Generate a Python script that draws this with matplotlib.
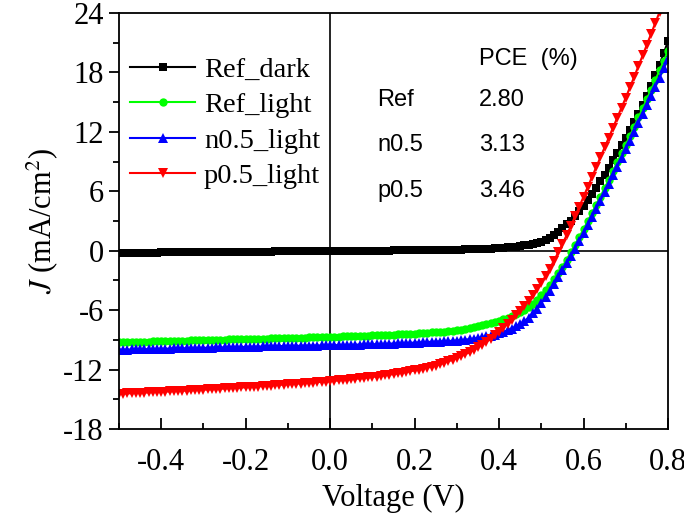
import numpy as np
import matplotlib
matplotlib.use("Agg")
import matplotlib.pyplot as plt
from matplotlib.ticker import MultipleLocator

plt.rcParams['font.family'] = ['Liberation Serif', 'DejaVu Serif']
plt.rcParams['mathtext.fontset'] = 'stix'
plt.rcParams['axes.unicode_minus'] = False

# Voltage sweep (V), 0.01 V steps
voltage = np.round(np.arange(-0.50, 0.8001, 0.01), 2)

ref_dark = [
    -0.22, -0.22, -0.21, -0.21, -0.21, -0.20, -0.20, -0.19, -0.19, -0.19,
    -0.18, -0.18, -0.17, -0.17, -0.17, -0.16, -0.16, -0.15, -0.15, -0.15,
    -0.14, -0.14, -0.13, -0.13, -0.13, -0.12, -0.12, -0.11, -0.11, -0.11,
    -0.10, -0.10, -0.09, -0.09, -0.09, -0.08, -0.08, -0.07, -0.07, -0.07,
    -0.06, -0.06, -0.05, -0.05, -0.05, -0.04, -0.04, -0.03, -0.03, -0.03,
    -0.02, -0.02, -0.02, -0.01, -0.01, -0.01, 0.00, 0.00, 0.00, 0.01,
    0.01, 0.01, 0.02, 0.02, 0.02, 0.03, 0.03, 0.03, 0.04, 0.04,
    0.05, 0.05, 0.06, 0.06, 0.07, 0.07, 0.08, 0.09, 0.09, 0.10,
    0.11, 0.12, 0.13, 0.14, 0.15, 0.17, 0.18, 0.20, 0.22, 0.24,
    0.27, 0.30, 0.33, 0.37, 0.42, 0.47, 0.53, 0.60, 0.68, 0.78,
    0.92, 1.10, 1.32, 1.60, 1.92, 2.27, 2.65, 3.05, 3.50, 3.98,
    4.50, 5.08, 5.70, 6.33, 7.00, 7.68, 8.40, 9.14, 9.90, 10.65,
    11.40, 12.18, 13.00, 13.83, 14.70, 15.65, 16.65, 17.70, 18.80, 19.95,
    21.15]

ref_light = [
    -9.25, -9.24, -9.23, -9.22, -9.21, -9.20, -9.18, -9.17, -9.16, -9.15,
    -9.14, -9.13, -9.12, -9.11, -9.10, -9.09, -9.07, -9.06, -9.05, -9.04,
    -9.03, -9.02, -9.01, -9.00, -8.99, -8.98, -8.96, -8.95, -8.94, -8.93,
    -8.92, -8.91, -8.90, -8.89, -8.88, -8.87, -8.85, -8.84, -8.83, -8.82,
    -8.81, -8.80, -8.79, -8.78, -8.77, -8.76, -8.74, -8.73, -8.72, -8.71,
    -8.70, -8.69, -8.67, -8.66, -8.64, -8.63, -8.61, -8.60, -8.58, -8.57,
    -8.55, -8.53, -8.51, -8.50, -8.48, -8.46, -8.44, -8.42, -8.40, -8.38,
    -8.36, -8.33, -8.31, -8.28, -8.25, -8.22, -8.19, -8.16, -8.13, -8.09,
    -8.05, -7.98, -7.90, -7.82, -7.73, -7.64, -7.54, -7.43, -7.32, -7.20,
    -7.07, -6.93, -6.78, -6.61, -6.42, -6.20, -5.95, -5.67, -5.35, -4.95,
    -4.45, -3.97, -3.45, -2.88, -2.26, -1.60, -0.90, -0.15, 0.60, 1.38,
    2.17, 2.98, 3.80, 4.63, 5.47, 6.32, 7.18, 8.05, 8.93, 9.82,
    10.72, 11.62, 12.53, 13.45, 14.38, 15.32, 16.27, 17.23, 18.20, 19.18,
    20.17]

n05_light = [
    -10.00, -9.99, -9.98, -9.97, -9.96, -9.95, -9.94, -9.93, -9.92, -9.91,
    -9.90, -9.89, -9.88, -9.87, -9.86, -9.85, -9.84, -9.83, -9.82, -9.81,
    -9.80, -9.79, -9.78, -9.77, -9.77, -9.76, -9.75, -9.74, -9.73, -9.72,
    -9.71, -9.70, -9.69, -9.68, -9.67, -9.66, -9.65, -9.64, -9.63, -9.62,
    -9.62, -9.61, -9.60, -9.59, -9.59, -9.58, -9.57, -9.57, -9.56, -9.56,
    -9.55, -9.54, -9.53, -9.52, -9.51, -9.50, -9.49, -9.47, -9.46, -9.45,
    -9.44, -9.43, -9.41, -9.40, -9.38, -9.37, -9.35, -9.34, -9.32, -9.31,
    -9.29, -9.27, -9.25, -9.23, -9.21, -9.19, -9.17, -9.15, -9.12, -9.10,
    -9.07, -9.03, -8.98, -8.93, -8.87, -8.81, -8.74, -8.66, -8.57, -8.46,
    -8.34, -8.20, -8.04, -7.86, -7.65, -7.40, -7.10, -6.75, -6.33, -5.85,
    -5.30, -4.70, -4.06, -3.38, -2.68, -1.97, -1.25, -0.52, 0.22, 0.98,
    1.76, 2.56, 3.38, 4.21, 5.05, 5.90, 6.76, 7.62, 8.49, 9.36,
    10.24, 11.12, 12.01, 12.90, 13.80, 14.70, 15.61, 16.53, 17.46, 18.40,
    19.35]

p05_light = [
    -14.45, -14.43, -14.41, -14.39, -14.37, -14.35, -14.33, -14.31, -14.29, -14.27,
    -14.25, -14.23, -14.21, -14.19, -14.17, -14.15, -14.12, -14.10, -14.08, -14.06,
    -14.03, -14.01, -13.99, -13.96, -13.94, -13.91, -13.89, -13.86, -13.84, -13.81,
    -13.79, -13.76, -13.73, -13.71, -13.68, -13.65, -13.62, -13.59, -13.56, -13.53,
    -13.50, -13.47, -13.44, -13.41, -13.38, -13.35, -13.32, -13.28, -13.25, -13.22,
    -13.18, -13.14, -13.10, -13.06, -13.02, -12.98, -12.94, -12.89, -12.85, -12.80,
    -12.75, -12.70, -12.64, -12.58, -12.52, -12.46, -12.39, -12.32, -12.25, -12.17,
    -12.09, -12.00, -11.91, -11.81, -11.71, -11.59, -11.46, -11.32, -11.17, -11.01,
    -10.84, -10.66, -10.46, -10.25, -10.02, -9.77, -9.50, -9.20, -8.88, -8.54,
    -8.18, -7.80, -7.40, -6.98, -6.54, -6.08, -5.58, -5.05, -4.49, -3.90,
    -3.26, -2.56, -1.80, -1.00, -0.18, 0.68, 1.57, 2.50, 3.46, 4.45,
    5.45, 6.44, 7.43, 8.43, 9.43, 10.43, 11.43, 12.43, 13.43, 14.43,
    15.45, 16.50, 17.56, 18.63, 19.71, 20.80, 21.90, 23.00, 24.10, 25.20,
    26.30]

series_labels = ['Ref_dark', 'Ref_light', 'n0.5_light', 'p0.5_light']
series_colors = ['#000000', '#00ff00', '#0000ff', '#ff0000']
series_markers = ['s', 'o', '^', 'v']
series_msize = [5.5, 6, 7.5, 7.5]

pce_samples = ['Ref', 'n0.5', 'p0.5']
pce_values = ['2.80', '3.13', '3.46']

fig = plt.figure(figsize=(6.84, 5.19), dpi=100)
ax = fig.add_axes([119/684, 1 - 429/519, (668-119)/684, (429-13)/519])

for y, lab, c, m, ms in zip([ref_dark, ref_light, n05_light, p05_light],
                            series_labels, series_colors, series_markers, series_msize):
    ax.plot(voltage, y, color=c, marker=m, markersize=ms, lw=1.5, label=lab,
            markeredgewidth=0)

ax.axhline(0, color='black', lw=1.2, zorder=1)
ax.axvline(0, color='black', lw=1.2, zorder=1)

ax.set_xlim(-0.5, 0.8)
ax.set_ylim(-18, 24)
ax.xaxis.set_major_locator(MultipleLocator(0.2))
ax.xaxis.set_minor_locator(MultipleLocator(0.1))
ax.yaxis.set_major_locator(MultipleLocator(6))
ax.yaxis.set_minor_locator(MultipleLocator(3))
ax.set_xticks([-0.4, -0.2, 0.0, 0.2, 0.4, 0.6, 0.8])
ax.set_xticklabels(['-0.4', '-0.2', '0.0', '0.2', '0.4', '0.6', '0.8'])

ax.tick_params(axis='x', which='major', direction='in', length=8, width=1.3,
               labelsize=22, pad=14)
ax.tick_params(axis='x', which='minor', direction='in', length=4.5, width=1.3)
ax.tick_params(axis='y', which='major', direction='out', length=7, width=1.3,
               labelsize=22, pad=4)
ax.tick_params(axis='y', which='minor', direction='out', length=4, width=1.3)
for s in ax.spines.values():
    s.set_linewidth(1.3)

ax.set_xlabel('Voltage (V)', fontsize=22, labelpad=5)
ax.set_ylabel(r'$J$ (mA/cm$^2$)', fontsize=22, labelpad=2)

leg = ax.legend(loc='upper left', bbox_to_anchor=(0.02, 0.895), frameon=False,
                fontsize=20.5, handlelength=2.3, handletextpad=0.3,
                labelspacing=0.34, borderpad=0, borderaxespad=0, numpoints=1)

# PCE annotation
def px(x, y):
    return x / 684, 1 - y / 519

fig.text(*px(479, 65), 'PCE  (%)', family='Liberation Sans', fontsize=17, va='baseline')
row_y = [106, 151, 197]
for name, val, yy in zip(pce_samples, pce_values, row_y):
    fig.text(*px(377, yy), name, family='Liberation Sans', fontsize=17, va='baseline')
    fig.text(*px(479, yy), val, family='Liberation Sans', fontsize=17, va='baseline')

fig.savefig('out.png', dpi=100)
